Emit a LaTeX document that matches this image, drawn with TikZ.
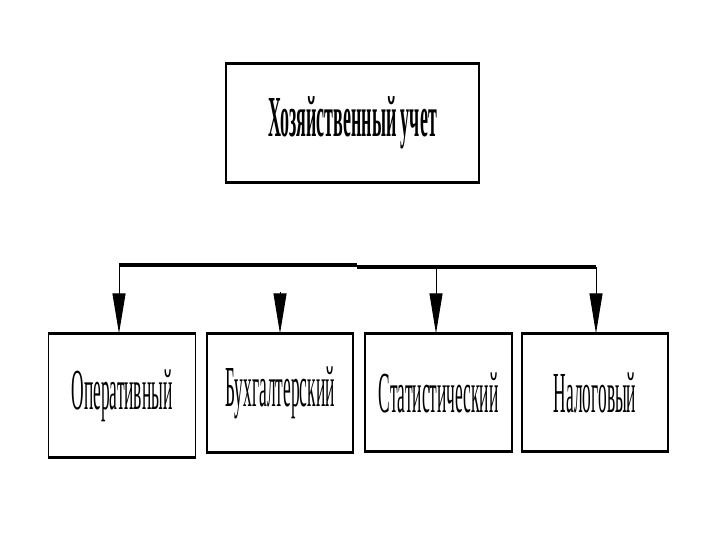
\documentclass[tikz,border=0pt]{standalone}
\usepackage{fontspec}
\setmainfont{Liberation Serif}
\newfontfamily\narrowfont[FakeStretch=0.3,BoldFeatures={FakeStretch=0.31}]{Liberation Serif}
\usepackage{tikz}
\usetikzlibrary{arrows.meta}

\tikzset{
  card/.style={draw, line width=1.2pt, inner sep=0pt, font=\narrowfont\fontsize{58}{58}\selectfont},
  edge/.style={line width=3pt},
  bus/.style={line width=3.4pt},
  drop/.style={line width=1pt, -{Triangle[length=40pt,width=13pt]}}
}

\begin{document}
\begin{tikzpicture}[x=1pt,y=-1pt]
\useasboundingbox (0,0) rectangle (720,540);

\node[card, minimum width=253pt, minimum height=118pt] (top) at (352.5,123) {\bfseries Хозяйственный учет};

\node[card, minimum width=147pt, minimum height=123pt] (op) at (122,395.5) {Оперативный};
\node[card, minimum width=146pt, minimum height=118pt] (buh) at (280,393) {Бухгалтерский};
\node[card, minimum width=147pt, minimum height=117pt] (stat) at (438.5,392.5) {Статистический};
\node[card, minimum width=146pt, minimum height=117pt] (nal) at (595,392.5) {Налоговый};

% thick upper and lower edges
\foreach \n in {top,op,buh,stat,nal}
  \draw[edge] (\n.north west) -- (\n.north east) (\n.south west) -- (\n.south east);

\coordinate (b1) at (119,265);
\coordinate (bm) at (357,265);
\coordinate (b2) at (280,292);
\coordinate (b3) at (436,267);
\coordinate (b4) at (596,267);

\draw[bus] (b1) -- (bm);
\draw[bus] (bm |- b3) -- (b4);

\draw[drop] (b1) -- (op.north -| b1);
\draw[drop] (b2) -- (buh.north);
\draw[drop] (b3) -- (stat.north -| b3);
\draw[drop] (b4) -- (nal.north -| b4);
\end{tikzpicture}
\end{document}
